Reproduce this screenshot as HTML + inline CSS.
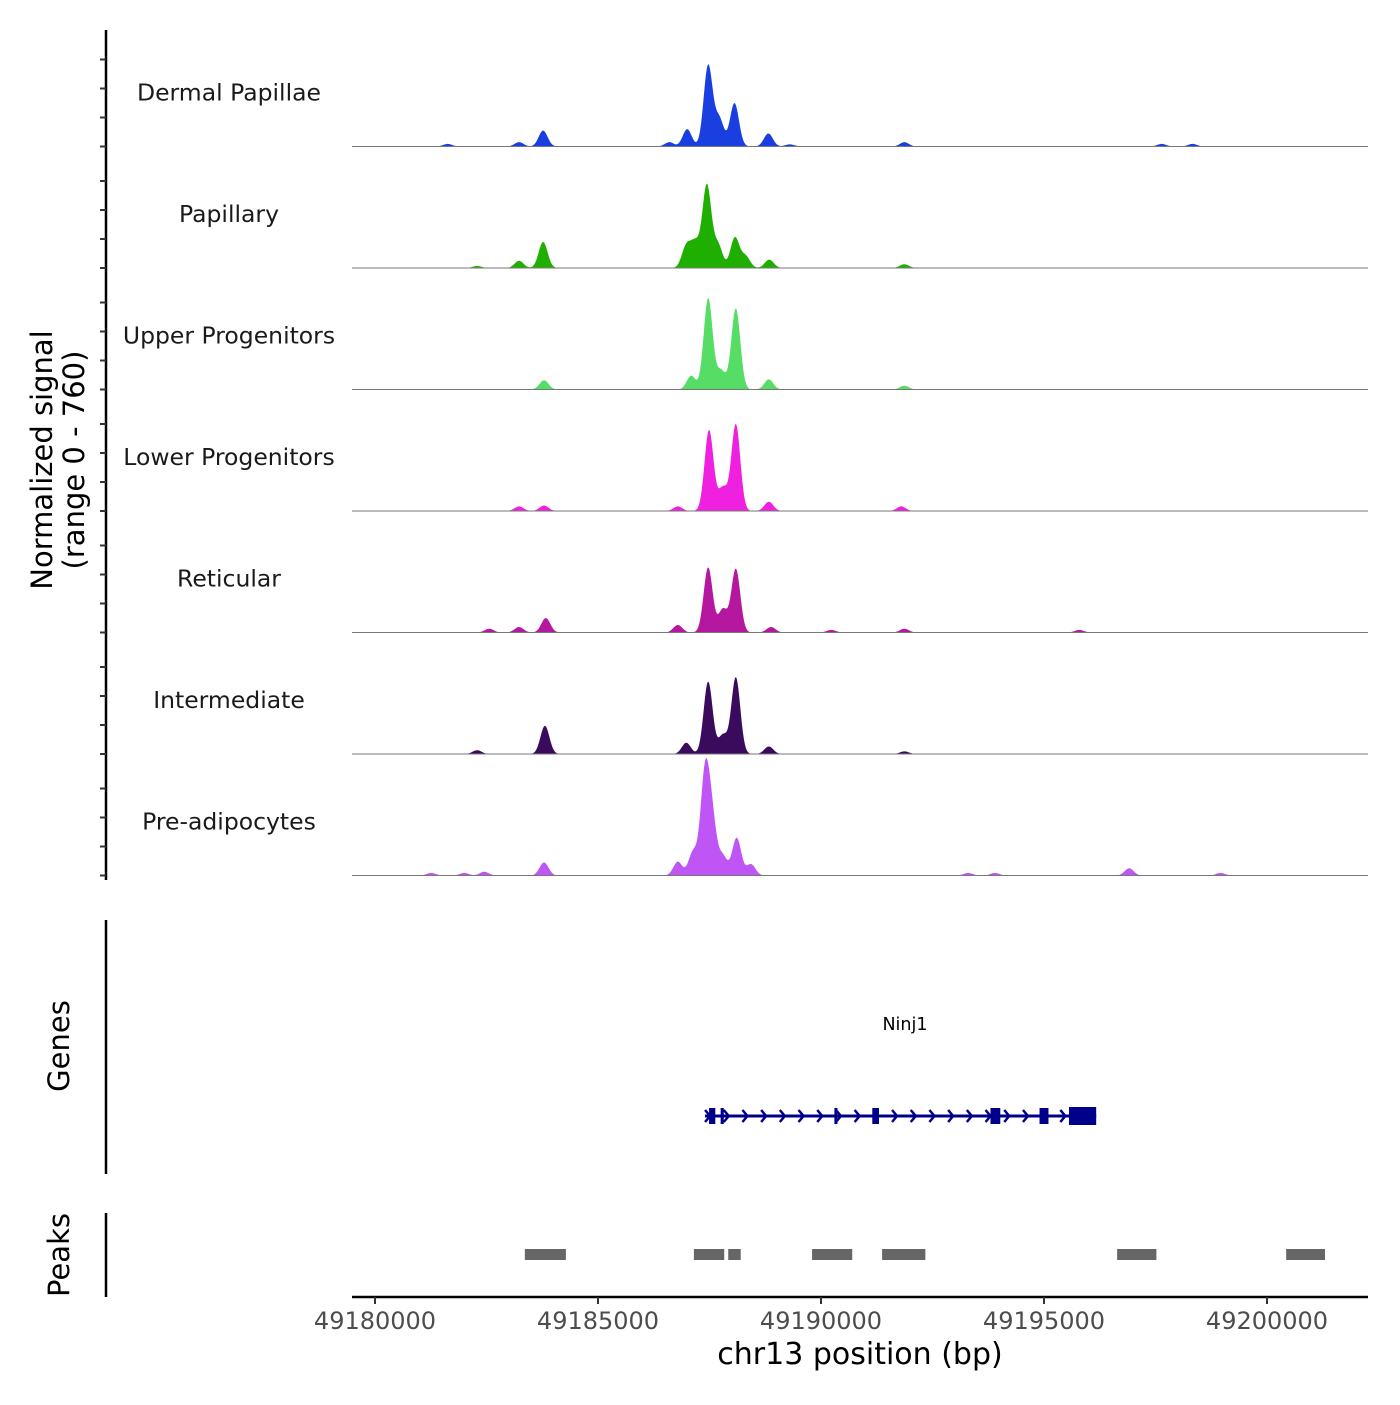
<!DOCTYPE html>
<html><head><meta charset="utf-8"><style>
body{margin:0;background:#fff}
svg text{font-family:"DejaVu Sans","Liberation Sans",sans-serif}
</style></head><body>
<svg id="c" width="1400" height="1400" viewBox="0 0 1400 1400"></svg>
<script>
const trackNames=["Dermal Papillae","Papillary","Upper Progenitors","Lower Progenitors","Reticular","Intermediate","Pre-adipocytes"];
const trackColors=["#1a3fe0","#1faf00","#55dd66","#f020e0","#b5189f","#3a0a5c","#c055f5"];
// peaks per track: [position bp, signal value]
const peaks0=[[49183770,110],[49183230,30],[49181630,18],[49187000,120],[49187470,560],[49187720,190],[49188060,300],[49188820,90],[49191870,30],[49197640,18],[49198330,18],[49186600,30],[49189300,15]];
const peaks1=[[49183770,180],[49183230,50],[49182290,14],[49186980,150],[49187180,165],[49187440,570],[49187690,160],[49188070,210],[49188310,80],[49188840,58],[49191870,26]];
const peaks2=[[49183790,64],[49187090,95],[49187470,630],[49187760,130],[49188090,560],[49188830,70],[49191870,26]];
const peaks3=[[49183230,32],[49183790,38],[49186790,32],[49187490,560],[49187800,160],[49188090,600],[49188830,64],[49191800,32]];
const peaks4=[[49182560,26],[49183230,38],[49183830,100],[49186790,52],[49187470,450],[49187800,160],[49188090,440],[49188880,38],[49190230,18],[49191870,26],[49195790,18]];
const peaks5=[[49182290,26],[49183810,195],[49186980,78],[49187470,500],[49187800,130],[49188090,530],[49188830,52],[49191870,18]];
const peaks6=[[49183790,90],[49186790,95],[49187130,160],[49187400,690],[49187560,350],[49187800,130],[49188110,260],[49188430,78],[49196910,50],[49182450,26],[49182000,18],[49181260,18],[49193300,18],[49193900,18],[49198960,18]];
const allPeaks=[peaks0,peaks1,peaks2,peaks3,peaks4,peaks5,peaks6];
const xTicks=[49180000,49185000,49190000,49195000,49200000];
const geneExons=[[49187490,49187630],[49187750,49187820],[49190300,49190360],[49191150,49191300],[49193800,49194020],[49194900,49195100],[49195560,49196170]];
const geneSpan=[49187400,49196170];
const peakRegions=[[49183360,49184280],[49187150,49187830],[49187920,49188200],[49189800,49190700],[49191370,49192340],[49196640,49197520],[49200430,49201300]];

const svg=document.getElementById('c');
const NS='http://www.w3.org/2000/svg';
function mk(t,a,p){const e=document.createElementNS(NS,t);for(const k in a)e.setAttribute(k,a[k]);(p||svg).appendChild(e);return e;}
const X0=352,X1=1368;
const xs=bp=>375+(bp-49180000)*0.0446;
const trackH=121.5, base0=146.5, pxPer=0.145;
const ys=(i,v)=>base0+i*trackH-v*pxPer;

const ax=mk('line',{x1:106,y1:30,x2:106,y2:880,stroke:'#000','stroke-width':2.5});

for(let i=0;i<7;i++){for(const v of [0,200,400,600]){const y=ys(i,v);
 const t=mk('line',{x1:100,y1:y,x2:106,y2:y,stroke:'#333','stroke-width':2});
 }}
const yt=mk('text',{transform:'translate(52,460) rotate(-90)','text-anchor':'middle','font-size':29,fill:'#000'});

mk('tspan',{x:0,dy:0},yt).textContent='Normalized signal';
mk('tspan',{x:0,dy:32},yt).textContent='(range 0 - 760)';

const sigma=100;
for(let i=0;i<7;i++){
 const g=mk('g',{});
 let d='M'+X0+','+ys(i,0);
 for(let px=X0;px<=X1;px++){const bp=49180000+(px-375)/0.0446;let v=0;
  for(const [p,h] of allPeaks[i]){const z=(bp-p)/sigma;v+=h*Math.exp(-0.5*z*z);}
  d+='L'+px+','+ys(i,v).toFixed(2);}
 d+='L'+X1+','+ys(i,0)+'Z';
 const a=mk('path',{d:d,fill:trackColors[i]},g);
 const b=mk('line',{x1:X0,x2:X1,y1:ys(i,0),y2:ys(i,0),stroke:'#777','stroke-width':1},g);
 const l=mk('text',{x:229,y:ys(i,0)-46,'text-anchor':'middle','font-size':23.5,fill:'#1a1a1a'},g);l.textContent=trackNames[i];
 
}

const ga=mk('line',{x1:106,y1:920,x2:106,y2:1174,stroke:'#000','stroke-width':2.5});
const gl=mk('text',{transform:'translate(69,1046) rotate(-90)','text-anchor':'middle','font-size':29});gl.textContent='Genes';
const gg=mk('g',{});
const gn=mk('text',{x:905,y:1030,'text-anchor':'middle','font-size':17.5},gg);gn.textContent='Ninj1';
mk('line',{x1:xs(geneSpan[0]),x2:xs(geneSpan[1]),y1:1116,y2:1116,stroke:'#00008b','stroke-width':3},gg);
for(let x=xs(geneSpan[0]);x<xs(geneSpan[1])-8;x+=18.7){mk('polyline',{points:`${x},1110 ${x+5},1116 ${x},1122`,fill:'none',stroke:'#00008b','stroke-width':2.5},gg);}
geneExons.forEach((e,k)=>{const w=Math.max(3,xs(e[1])-xs(e[0]));const h=k==geneExons.length-1?18:16;
 const r=mk('rect',{x:xs(e[0]),y:1116-h/2,width:w,height:h,fill:'#00008b'},gg);});

const pa=mk('line',{x1:106,y1:1213,x2:106,y2:1297,stroke:'#000','stroke-width':2.5});
const pl=mk('text',{transform:'translate(69,1255) rotate(-90)','text-anchor':'middle','font-size':29});pl.textContent='Peaks';
for(const p of peakRegions){const r=mk('rect',{x:xs(p[0]),y:1249,width:xs(p[1])-xs(p[0]),height:11,fill:'#666'});}

const xa=mk('line',{x1:X0,x2:X1,y1:1297,y2:1297,stroke:'#000','stroke-width':2.5});
for(const t of xTicks){const x=xs(t);
 const tk=mk('line',{x1:x,x2:x,y1:1297,y2:1304,stroke:'#333','stroke-width':2});
 const tl=mk('text',{x:x,y:1329,'text-anchor':'middle','font-size':24,fill:'#4d4d4d'});tl.textContent=t;}
const xt=mk('text',{x:860,y:1364,'text-anchor':'middle','font-size':30});xt.textContent='chr13 position (bp)';
</script>
</body></html>
